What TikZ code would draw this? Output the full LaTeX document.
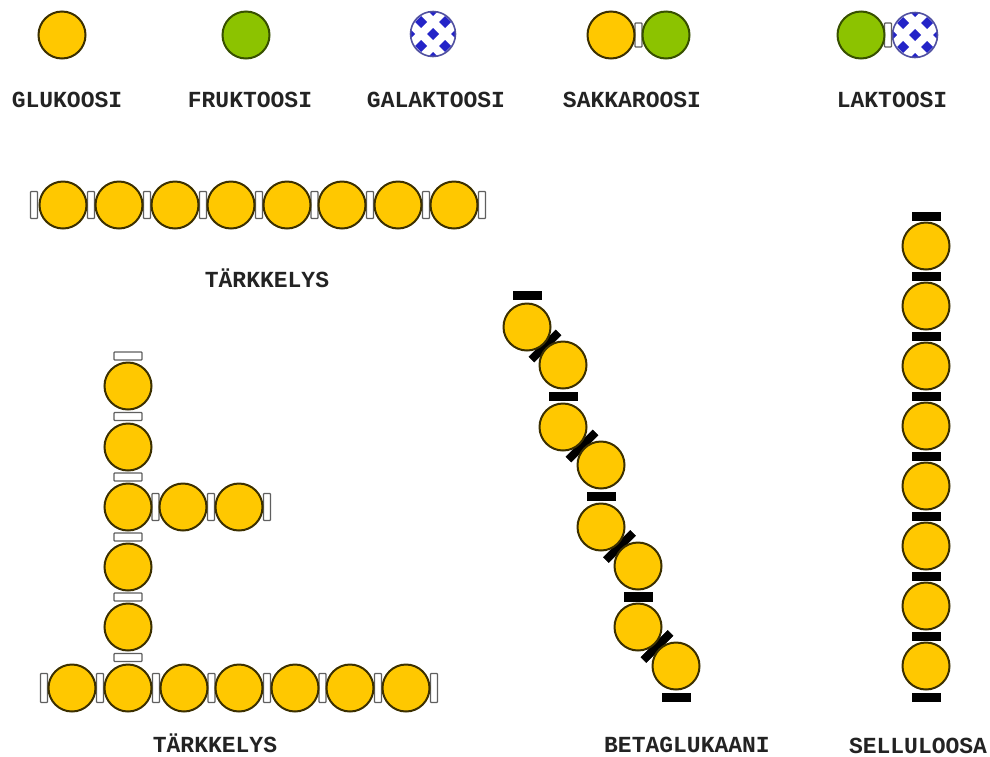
\documentclass[tikz,border=0pt]{standalone}
\usepackage{fontspec}
\setmainfont{Liberation Mono}
\usetikzlibrary{calc}
\pgfdeclarelayer{bg}
\pgfsetlayers{bg,main}
\definecolor{gold}{RGB}{255,200,0}
\definecolor{goldline}{RGB}{60,48,0}
\definecolor{fgreen}{RGB}{140,195,0}
\definecolor{fgreenline}{RGB}{55,80,0}
\definecolor{galblue}{RGB}{36,36,200}
\definecolor{galline}{RGB}{80,80,160}
\definecolor{bondgray}{RGB}{95,95,95}
\definecolor{labelc}{RGB}{35,35,35}
\begin{document}
\begin{tikzpicture}[x=1pt,y=-1pt,
  glc/.style={circle,fill=gold,draw=goldline,line width=2pt,minimum size=47pt,inner sep=0pt},
  frc/.style={circle,fill=fgreen,draw=fgreenline,line width=2pt,minimum size=47pt,inner sep=0pt},
  gal/.style={circle,fill=white,draw=galline,line width=1.6pt,minimum size=45pt,inner sep=0pt,
    path picture={\begin{scope}[shift={(path picture bounding box.center)}]
      \foreach \a/\b in {0/0,12/12,12/-12,-12/12,-12/-12,24/0,-24/0,0/24,0/-24}
        \fill[galblue] (\a-6,\b) -- (\a,\b+6) -- (\a+6,\b) -- (\a,\b-6) -- cycle;
      \end{scope}}},
  wbv/.style={rectangle,fill=white,draw=bondgray,line width=1.3pt,minimum width=7pt,minimum height=27pt,inner sep=0pt,rounded corners=0.8pt},
  wbh/.style={rectangle,fill=white,draw=bondgray,line width=1.3pt,minimum width=28pt,minimum height=8pt,inner sep=0pt,rounded corners=0.8pt},
  bbh/.style={rectangle,fill=black,draw=black,line width=0.5pt,minimum width=28pt,minimum height=8.5pt,inner sep=0pt},
  bbd/.style={rectangle,fill=black,draw=black,line width=0.5pt,minimum width=38pt,minimum height=7.5pt,inner sep=0pt,rotate=45},
  lbl/.style={anchor=base,inner sep=0pt,text=labelc,font=\fontsize{23}{23}\selectfont\bfseries}
]
\useasboundingbox (0,0) rectangle (990,756);

% ---------- legend ----------
\node[glc] (lg) at (62,35) {};
\node[frc] (lf) at (246,35) {};
\node[gal] (lga) at (433,34) {};
\node[glc] (sg) at (611,35) {};
\node[frc] (sf) at (666,35) {};
\begin{pgfonlayer}{bg}\node[wbv,minimum height=24pt] (sb) at ($(sg)!0.5!(sf)$) {};\end{pgfonlayer}
\node[frc] (lkf) at (861,35) {};
\node[gal] (lkg) at (915,35) {};
\begin{pgfonlayer}{bg}\node[wbv,minimum height=24pt] (lkb) at ($(lkf)!0.5!(lkg)$) {};\end{pgfonlayer}

\node[lbl] (tg) at (67,107) {GLUKOOSI};
\node[lbl] (tf) at (250,107) {FRUKTOOSI};
\node[lbl] (tga) at (436,107) {GALAKTOOSI};
\node[lbl] (ts) at (632,107) {SAKKAROOSI};
\node[lbl] (tl) at (892,107) {LAKTOOSI};

% ---------- straight starch ----------
\foreach \i/\x in {1/63,2/119,3/175,4/231,5/287,6/342,7/398,8/454}
  \node[glc] (a\i) at (\x,205) {};
\begin{pgfonlayer}{bg}
\node[wbv] (ab0) at ($(a1)+(-29,0)$) {};
\foreach \i/\j in {1/2,2/3,3/4,4/5,5/6,6/7,7/8}
  \node[wbv] (ab\i) at ($(a\i)!0.5!(a\j)$) {};
\node[wbv] (ab8) at ($(a8)+(28,0)$) {};
\end{pgfonlayer}
\node[lbl] (ta) at (267,287) {TÄRKKELYS};

% ---------- branched starch ----------
\foreach \i/\y in {1/386,2/447,3/507,4/567,5/627}
  \node[glc] (v\i) at (128,\y) {};
\foreach \i/\x in {1/72,2/128,3/184,4/239,5/295,6/350,7/406}
  \node[glc] (h\i) at (\x,688) {};
\node[glc] (r1) at (183,507) {};
\node[glc] (r2) at (239,507) {};
\begin{pgfonlayer}{bg}
\node[wbh] (vb0) at ($(v1)+(0,-30)$) {};
\foreach \i/\j in {1/2,2/3,3/4,4/5}
  \node[wbh] (vb\i) at ($(v\i)!0.5!(v\j)$) {};
\node[wbh] (vb5) at ($(v5)!0.5!(h2)$) {};
\node[wbv] (rb0) at ($(v3)!0.5!(r1)$) {};
\node[wbv] (rb1) at ($(r1)!0.5!(r2)$) {};
\node[wbv] (rb2) at ($(r2)+(28,0)$) {};
\node[wbv,minimum height=29pt] (hb0) at ($(h1)+(-28,0)$) {};
\foreach \i/\j in {1/2,2/3,3/4,4/5,5/6,6/7}
  \node[wbv,minimum height=29pt] (hb\i) at ($(h\i)!0.5!(h\j)$) {};
\node[wbv,minimum height=29pt] (hb7) at ($(h7)+(28,0)$) {};
\end{pgfonlayer}
\node[lbl] (tb) at (215,752) {TÄRKKELYS};

% ---------- beta-glucan ----------
\foreach \i/\x/\y in {1/527/327,2/563/365,3/563/427,4/601/465,5/601/527,6/638/566,7/638/627,8/676/666}
  \node[glc] (b\i) at (\x,\y) {};
\begin{pgfonlayer}{bg}
\node[bbh] (bb0) at ($(b1)+(0,-32)$) {};
\foreach \i/\j in {1/2,3/4,5/6,7/8}
  \node[bbd] (bd\i) at ($(b\i)!0.5!(b\j)$) {};
\foreach \i/\j in {2/3,4/5,6/7}
  \node[bbh] (bh\i) at ($(b\i)!0.5!(b\j)$) {};
\node[bbh] (bb8) at ($(b8)+(0,31)$) {};
\end{pgfonlayer}
\node[lbl] (tbg) at (687,752) {BETAGLUKAANI};

% ---------- cellulose ----------
\foreach \i/\y in {1/246,2/306,3/366,4/426,5/486,6/546,7/606,8/666}
  \node[glc] (c\i) at (926,\y) {};
\begin{pgfonlayer}{bg}
\node[bbh] (cb0) at ($(c1)+(0,-30)$) {};
\foreach \i/\j in {1/2,2/3,3/4,4/5,5/6,6/7,7/8}
  \node[bbh] (cb\i) at ($(c\i)!0.5!(c\j)$) {};
\node[bbh] (cb8) at ($(c8)+(0,31)$) {};
\end{pgfonlayer}
\node[lbl] (tc) at (918,753) {SELLULOOSA};
\end{tikzpicture}
\end{document}
